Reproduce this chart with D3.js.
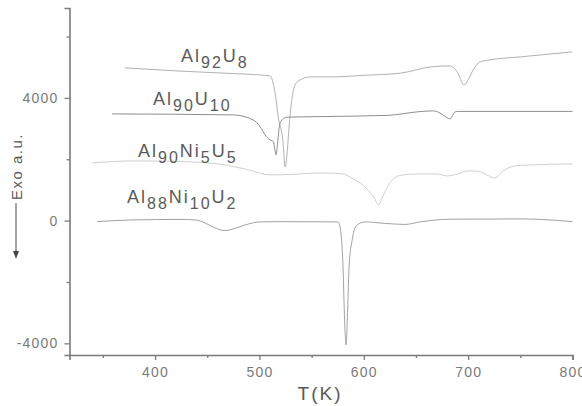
<!DOCTYPE html>
<html>
<head>
<meta charset="utf-8">
<script src="https://cdn.jsdelivr.net/npm/d3@7"></script>
<style>
  body { margin: 0; background: #fff; }
  text { font-family: "Liberation Sans", Arial, sans-serif; }
</style>
</head>
<body>
<div id="chart"></div>
<script>
// DSC traces (T in K, signal in a.u.)
const al92u8T = [371,420,470,500,510,515,518,522.7,524.6,526.2,528.4,531,534.2,539,548.6,570.6,599,634.8,666.5,682.7,689.5,696.2,700,704.8,711.5,721,750,800];
const al92u8V = [4980,4880,4800,4750,4717,4163,3381,2533,1751,2077,3055,3935,4424,4587,4685,4685,4734,4805,5020,5043,4848,4424,4587,4913,5174,5239,5337,5500];

const al90u10T = [358.8,474.8,494,500.6,505.4,510.2,513.4,515,516,517.2,519.1,520.5,526.2,558.2,622.4,654,666.5,673,679.6,682.7,687.5,691.4,800];
const al90u10V = [3478,3446,3283,3064,2794,2631,2575,2282,2142,2468,3064,3227,3371,3390,3430,3554,3577,3511,3358,3315,3544,3560,3560];

const al90ni5u5T = [340,380,420,460,490,510,530,560,580,590,600,610,614,618,625,635,650,670,680,690,700,710,718,725,735,745,760,800];
const al90ni5u5V = [1881,1946,1930,1848,1653,1490,1506,1555,1522,1360,1131,740,512,773,1229,1474,1522,1522,1457,1522,1620,1604,1490,1392,1653,1783,1816,1848];

const al88ni10u2T = [344.4,378.9,424,438.3,447.9,457.5,467,474.8,486.3,500.6,519.8,575.4,578.3,580.2,581.6,583.1,584.5,586,588.9,592.7,601.3,620.5,639.6,654,682.7,749.9,788,800];
const al88ni10u2V = [-33,23,39,23,-75,-238,-326,-271,-140,-42,-33,-42,-466,-1607,-3238,-4052,-2911,-1444,-629,-173,-42,-91,-124,-42,46,55,0,-33];

const xTicks = [400, 500, 600, 700, 800];
const xMinor = [350, 450, 550, 650, 750];
const yTicks = [-4000, 0, 4000];
const yMinor = [-2000, 2000, 6000];

// label text parts: [main, sub, main, sub, ...]
const labels = [
  ["Al", "92", "U", "8"],
  ["Al", "90", "U", "10"],
  ["Al", "90", "Ni", "5", "U", "5"],
  ["Al", "88", "Ni", "10", "U", "2"]
];
const labelPos = [[181, 62], [153, 105], [138, 157], [127, 203]];

const series = [
  { T: al92u8T, V: al92u8V, color: "#b2b2b2" },
  { T: al90u10T, V: al90u10V, color: "#8e8e8e" },
  { T: al90ni5u5T, V: al90ni5u5V, color: "#d0d0d0" },
  { T: al88ni10u2T, V: al88ni10u2V, color: "#a2a2a2" }
];

const W = 582, H = 406;
const svg = d3.select("#chart").append("svg")
  .attr("width", W).attr("height", H);

const x = d3.scaleLinear().domain([318, 800]).range([69.5, 572.5]);
const y = d3.scaleLinear().domain([-4380, 6930]).range([355, 8]);

const axisColor = "#7a7a7a";

// lines
const line = d3.line()
  .x(d => x(d[0]))
  .y(d => y(d[1]))
  .curve(d3.curveMonotoneX);

series.forEach(s => {
  svg.append("path")
    .datum(s.T.map((t, i) => [t, s.V[i]]))
    .attr("d", line)
    .attr("fill", "none")
    .attr("stroke", s.color)
    .attr("stroke-width", 1);
});

// x axis
const gx = svg.append("g").attr("transform", "translate(0,355)");
gx.call(d3.axisBottom(x).tickValues(xTicks).tickSize(5).tickPadding(7));
gx.append("g").call(d3.axisBottom(x).tickValues(xMinor).tickSize(3).tickFormat(""))
  .select(".domain").remove();

// y axis
const gy = svg.append("g").attr("transform", "translate(69.5,0)");
gy.call(d3.axisLeft(y).tickValues(yTicks).tickSize(5).tickPadding(6).tickFormat(d => String(d)));
gy.append("g").call(d3.axisLeft(y).tickValues(yMinor).tickSize(3).tickFormat(""))
  .select(".domain").remove();

svg.selectAll(".domain").attr("stroke", axisColor).attr("stroke-width", 1.6);
svg.selectAll(".tick line").attr("stroke", axisColor).attr("stroke-width", 1.3);
svg.selectAll(".tick text")
  .attr("fill", "#7a7a7a")
  .style("font-size", "14px")
  .style("letter-spacing", "1.2px")
  .style("font-family", "Liberation Sans, Arial, sans-serif");

// x title
svg.append("text")
  .attr("x", 320).attr("y", 400)
  .attr("text-anchor", "middle")
  .attr("fill", "#5a5a5a")
  .style("font-size", "19px")
  .style("letter-spacing", "2px")
  .text("T(K)");

// Exo label with arrow
svg.append("text")
  .attr("transform", "translate(22,200) rotate(-90)")
  .attr("fill", "#5a5a5a")
  .style("font-size", "15px")
  .style("letter-spacing", "1.5px")
  .text("Exo  a.u.");
svg.append("line")
  .attr("x1", 16).attr("x2", 16)
  .attr("y1", 203).attr("y2", 252)
  .attr("stroke", "#666").attr("stroke-width", 1.2);
svg.append("path")
  .attr("d", "M13,251 L19,251 L16,259 Z")
  .attr("fill", "#444");

// series labels
labels.forEach((parts, i) => {
  const t = svg.append("text")
    .attr("x", labelPos[i][0]).attr("y", labelPos[i][1])
    .attr("fill", "#5a5a5a")
    .style("letter-spacing", "2px");
  parts.forEach((p, j) => {
    const sub = j % 2 === 1;
    t.append("tspan")
      .attr("dy", sub ? 6 : (j === 0 ? 0 : -6))
      .style("font-size", sub ? "16px" : "18px")
      .text(p);
  });
});
</script>
</body>
</html>
